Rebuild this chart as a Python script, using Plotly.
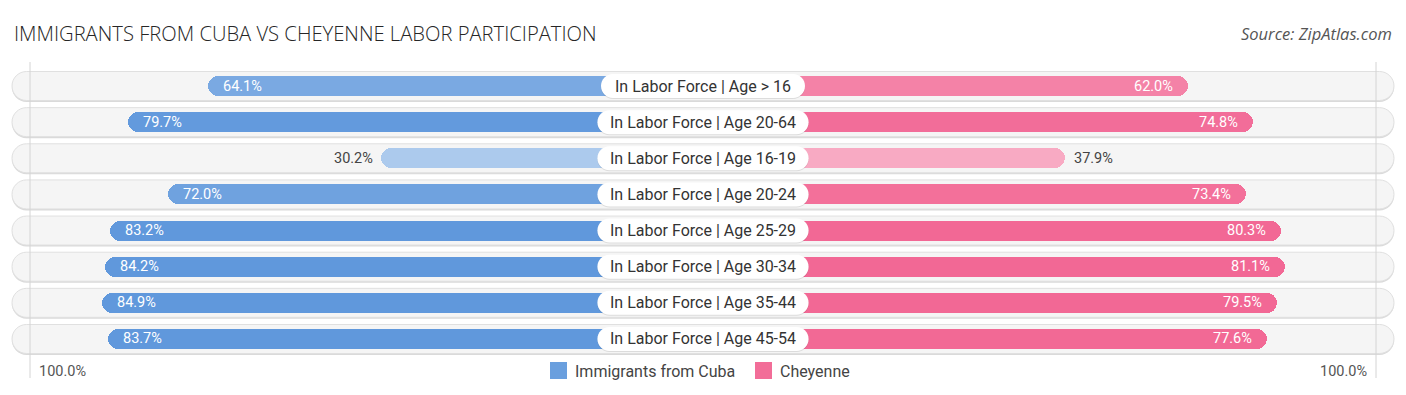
import plotly.graph_objects as go

categories = ["In Labor Force | Age > 16", "In Labor Force | Age 20-64", "In Labor Force | Age 16-19",
              "In Labor Force | Age 20-24", "In Labor Force | Age 25-29", "In Labor Force | Age 30-34",
              "In Labor Force | Age 35-44", "In Labor Force | Age 45-54"]
cuba = [64.1, 79.7, 30.2, 72.0, 83.2, 84.2, 84.9, 83.7]
cheyenne = [62.0, 74.8, 37.9, 73.4, 80.3, 81.1, 79.5, 77.6]
series_names = ["Immigrants from Cuba", "Cheyenne"]
axis_labels = ["100.0%", "100.0%"]
title = "IMMIGRANTS FROM CUBA VS CHEYENNE LABOR PARTICIPATION"
source = "Source: ZipAtlas.com"

PAGE = 8                       # default body margin of the page
W, H = 1406 - 2 * PAGE, 395 - 2 * PAGE
KX = 5.1                       # px per percent unit
OFF = 33.0                     # part of each bar hidden under the centre label
CX = 703.0 - PAGE              # centre in figure px
XL, XR = -CX / KX, (W - CX) / KX
ROW0, ROWH = 86.0 - PAGE, 36.14
YTOP = -ROW0 / ROWH
YBOT = (H - ROW0) / ROWH


def px(x):
    return (x - PAGE) / W


def py(y):
    return 1 - (y - PAGE) / H


def mix(c1, c2, t):
    t = max(0.0, min(1.0, t))
    return "#%02x%02x%02x" % tuple(round(a + (b - a) * t) for a, b in zip(c1, c2))


def blue(v):
    return mix((172, 202, 237), (96, 152, 220), (v - 30) / 52)


def pink(v):
    return mix((248, 170, 195), (242, 104, 149), (v - 38) / 40)


def rrect(x0, x1, yc, hpx, rpx=None):
    if rpx is None:
        rpx = hpx / 2
    hy = hpx / 2 / ROWH
    y0, y1 = yc - hy, yc + hy
    rx = rpx / KX
    ry = rpx / ROWH
    k = 0.5523
    return (f"M{x0+rx},{y0} L{x1-rx},{y0} "
            f"C{x1-rx+k*rx},{y0} {x1},{y0+ry-k*ry} {x1},{y0+ry} "
            f"L{x1},{y1-ry} C{x1},{y1-ry+k*ry} {x1-rx+k*rx},{y1} {x1-rx},{y1} "
            f"L{x0+rx},{y1} C{x0+rx-k*rx},{y1} {x0},{y1-ry+k*ry} {x0},{y1-ry} "
            f"L{x0},{y0+ry} C{x0},{y0+ry-k*ry} {x0+rx-k*rx},{y0} {x0+rx},{y0} Z")


shapes = []
annotations = []
n = len(categories)
ys = list(range(n))
PILL = 691 / KX

# background pills
for i in ys:
    shapes.append(dict(type="path", path=rrect(-PILL, PILL, i + 1.5 / ROWH, 29), fillcolor="#dadada",
                       line=dict(width=0), layer="below", xref="x", yref="y"))
    shapes.append(dict(type="path", path=rrect(-PILL, PILL, i, 29), fillcolor="#f5f5f5",
                       line=dict(color="#e0e0e0", width=1), layer="below", xref="x", yref="y"))

# faint vertical guide lines
for sx in (-673 / KX, 673 / KX):
    shapes.append(dict(type="line", x0=sx, x1=sx, y0=YTOP + (62 - PAGE) / ROWH, y1=YTOP + (378 - PAGE) / ROWH,
                       line=dict(color="#d4d4d4", width=1), layer="below", xref="x", yref="y"))

fig = go.Figure()
fig.add_trace(go.Bar(y=ys, x=[-(OFF + v) for v in cuba], base=0, orientation="h", width=20 / ROWH,
                     marker=dict(color=[blue(v) for v in cuba], cornerradius=10, line=dict(width=0)),
                     showlegend=False, hoverinfo="skip"))
fig.add_trace(go.Bar(y=ys, x=[OFF + v for v in cheyenne], base=0, orientation="h", width=20 / ROWH,
                     marker=dict(color=[pink(v) for v in cheyenne], cornerradius=10, line=dict(width=0)),
                     showlegend=False, hoverinfo="skip"))

# centre label boxes (drawn above bars)
for i, c in enumerate(categories):
    wpx = 7.2 * len(c) + 24
    hx = wpx / 2 / KX
    shapes.append(dict(type="path", path=rrect(-hx, hx, i + 1 / ROWH, 24), fillcolor="rgba(0,0,0,0.10)",
                       line=dict(width=0), layer="above", xref="x", yref="y"))
    shapes.append(dict(type="path", path=rrect(-hx, hx, i, 24), fillcolor="#ffffff",
                       line=dict(width=0), layer="above", xref="x", yref="y"))
    annotations.append(dict(x=0, y=i, text=c, showarrow=False, xanchor="center", yanchor="middle",
                            font=dict(family="Roboto", size=16, color="#333333"), xref="x", yref="y"))

# value labels
for i, v in enumerate(cuba):
    tip = -(OFF + v)
    inside = v > 45
    annotations.append(dict(x=tip, y=i, text=f"{v:.1f}%", showarrow=False,
                            xanchor="left" if inside else "right", xshift=13 if inside else -6,
                            yanchor="middle",
                            font=dict(family="Roboto", size=14.5, color="#ffffff" if inside else "#444444"),
                            xref="x", yref="y"))
for i, v in enumerate(cheyenne):
    tip = OFF + v
    inside = v > 45
    annotations.append(dict(x=tip, y=i, text=f"{v:.1f}%", showarrow=False,
                            xanchor="right" if inside else "left", xshift=-13 if inside else 7,
                            yanchor="middle",
                            font=dict(family="Roboto", size=14.5, color="#ffffff" if inside else "#444444"),
                            xref="x", yref="y"))

# title & source
annotations.append(dict(x=px(12), y=py(33), xref="paper", yref="paper", text=title, showarrow=False,
                        xanchor="left", yanchor="middle",
                        font=dict(family="Open Sans", size=20.2, color="#262626", weight=300)))
annotations.append(dict(x=px(1394), y=py(34), xref="paper", yref="paper", text=f"<i>{source}</i>",
                        showarrow=False, xanchor="right", yanchor="middle",
                        font=dict(family="Open Sans", size=16.5, color="#555555")))

# axis end labels
ly = py(371)
annotations.append(dict(x=px(37), y=ly, xref="paper", yref="paper", text=axis_labels[0], showarrow=False,
                        xanchor="left", yanchor="middle", font=dict(family="Roboto", size=14.5, color="#555555")))
annotations.append(dict(x=px(1369), y=ly, xref="paper", yref="paper", text=axis_labels[1], showarrow=False,
                        xanchor="right", yanchor="middle", font=dict(family="Roboto", size=14.5, color="#555555")))

# legend
leg = [(550, blue(75), series_names[0]), (755, pink(75), series_names[1])]
for x0, col, name in leg:
    shapes.append(dict(type="rect", xref="paper", yref="paper", x0=px(x0), x1=px(x0 + 17),
                       y0=py(379), y1=py(362), fillcolor=col, line=dict(width=0)))
    annotations.append(dict(x=px(x0 + 23), y=ly, xref="paper", yref="paper", text=name, showarrow=False,
                            xanchor="left", yanchor="middle",
                            font=dict(family="Roboto", size=16, color="#444444")))

fig.update_layout(
    width=W, height=H, margin=dict(l=0, r=0, t=0, b=0),
    paper_bgcolor="#ffffff", plot_bgcolor="#ffffff",
    barmode="overlay", bargap=0,
    xaxis=dict(range=[XL, XR], visible=False, fixedrange=True),
    yaxis=dict(range=[YBOT, YTOP], visible=False, fixedrange=True),
    shapes=shapes, annotations=annotations, showlegend=False,
)

fig.write_html("out.html")
